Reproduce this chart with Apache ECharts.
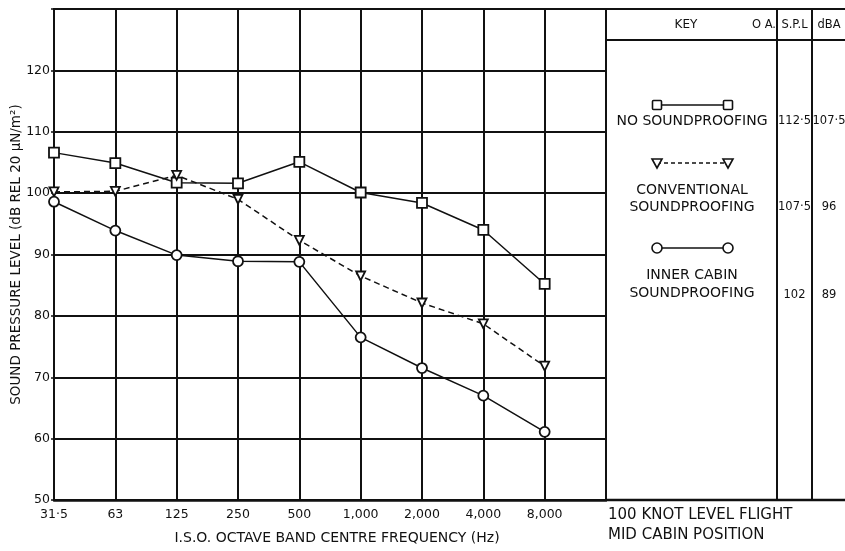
<!DOCTYPE html>
<html>
<head>
<meta charset="utf-8">
<script src="https://cdn.jsdelivr.net/npm/echarts@6/dist/echarts.min.js"></script>
<style>
  html, body { margin: 0; padding: 0; background: #fff; }
  #chart { width: 845px; height: 551px; }
</style>
</head>
<body>
<div id="chart"></div>
<script>
// octave band centre frequencies (Hz)
const freqLabels = ['31·5', '63', '125', '250', '500', '1,000', '2,000', '4,000', '8,000'];

// sound pressure level, dB
const noSoundproofing = [106.6, 104.9, 101.7, 101.6, 105.1, 100.1, 98.4, 94.0, 85.2];
const conventional = [100.2, 100.3, 102.9, 99.0, 92.3, 86.5, 82.1, 78.7, 71.8];
const innerCabin = [98.6, 93.9, 89.9, 88.9, 88.8, 76.5, 71.5, 67.0, 61.1];

// key table
const keyNames = [['NO SOUNDPROOFING'], ['CONVENTIONAL', 'SOUNDPROOFING'], ['INNER CABIN', 'SOUNDPROOFING']];
const oaSpl = ['112·5', '107·5', '102'];
const dba = ['107·5', '96', '89'];
const footNotes = ['100 KNOT LEVEL FLIGHT', 'MID CABIN POSITION'];

const FONT = 'DejaVu Sans';
const INK = '#111';

const toPoints = (vals) => vals.map((v, i) => [i, v]);

const chart = echarts.init(document.getElementById('chart'));

// key layout (decoration only)
const keyRows = [
  { sampleY: 105, textY: [121], numY: 121, symbol: 'rect', dashed: false },
  { sampleY: 163, textY: [190, 207], numY: 207, symbol: 'tri', dashed: true },
  { sampleY: 248, textY: [275, 293], numY: 295, symbol: 'circle', dashed: false },
];

function sampleSymbol(kind, x, y) {
  const style = { fill: '#fff', stroke: INK, lineWidth: 1.6 };
  if (kind === 'rect') return { type: 'rect', shape: { x: x - 4.5, y: y - 4.5, width: 9, height: 9, r: 1 }, style };
  if (kind === 'circle') return { type: 'circle', shape: { cx: x, cy: y, r: 5 }, style };
  return { type: 'polygon', shape: { points: [[x - 5, y - 4], [x + 5, y - 4], [x, y + 5]] }, style };
}

const txt = (text, x, y, align, size) => ({
  type: 'text',
  x, y,
  style: { text, fill: INK, font: `${size || 14}px "${FONT}"`, align: align || 'center', verticalAlign: 'middle' },
});

const graphics = [
  // table frame
  { type: 'line', shape: { x1: 606, y1: 9, x2: 845, y2: 9 }, style: { stroke: INK, lineWidth: 2 } },
  { type: 'line', shape: { x1: 606, y1: 500, x2: 845, y2: 500 }, style: { stroke: INK, lineWidth: 2.5 } },
  { type: 'line', shape: { x1: 606, y1: 40, x2: 845, y2: 40 }, style: { stroke: INK, lineWidth: 2 } },
  { type: 'line', shape: { x1: 777, y1: 9, x2: 777, y2: 500 }, style: { stroke: INK, lineWidth: 2 } },
  { type: 'line', shape: { x1: 812, y1: 9, x2: 812, y2: 500 }, style: { stroke: INK, lineWidth: 2 } },
  txt('KEY', 686, 25, 'center', 12),
  txt('O A.', 764, 25, 'center', 11.5),
  txt('S.P.L', 794.5, 25, 'center', 11.5),
  txt('dBA', 829, 25, 'center', 11.5),
];

keyRows.forEach((row, i) => {
  graphics.push({
    type: 'line',
    shape: { x1: 657, y1: row.sampleY, x2: 728, y2: row.sampleY },
    style: { stroke: INK, lineWidth: 1.3, lineDash: row.dashed ? [4, 3] : null },
  });
  graphics.push(sampleSymbol(row.symbol, 657, row.sampleY));
  graphics.push(sampleSymbol(row.symbol, 728, row.sampleY));
  keyNames[i].forEach((t, j) => graphics.push(txt(t, 692, row.textY[j])));
  graphics.push(txt(oaSpl[i], 794.5, row.numY, 'center', 11.5));
  graphics.push(txt(dba[i], 829, row.numY, 'center', 11.5));
});

footNotes.forEach((t, i) => graphics.push(txt(t, 608, 515 + i * 20, 'left', 15)));

const lineSeries = (name, data, symbol, dashed, extra) => Object.assign({
  name,
  type: 'line',
  data: toPoints(data),
  symbol,
  symbolSize: 10,
  showAllSymbol: true,
  lineStyle: { color: INK, width: 1.5, type: dashed ? [6, 4] : 'solid' },
  itemStyle: { color: '#fff', borderColor: INK, borderWidth: 1.8 },
  emphasis: { disabled: true },
  z: 3,
}, extra || {});

chart.setOption({
  backgroundColor: '#fff',
  animation: false,
  textStyle: { fontFamily: FONT, color: INK },
  grid: {
    left: 54, top: 9, right: 239, bottom: 51,
    outerBoundsMode: 'none',
    containLabel: false,
    show: true, borderColor: INK, borderWidth: 2,
  },
  xAxis: {
    type: 'value',
    min: 0, max: 9, interval: 1,
    name: 'I.S.O. OCTAVE BAND CENTRE FREQUENCY (Hz)',
    nameLocation: 'middle',
    nameGap: 31,
    nameTextStyle: { fontSize: 14, color: INK, padding: [0, 0, 0, 14] },
    axisLine: { show: true, lineStyle: { color: INK, width: 2.5 } },
    axisTick: { show: false },
    axisLabel: {
      color: INK, fontSize: 12.5, margin: 8,
      formatter: (v) => freqLabels[v] || '',
    },
    splitLine: { show: true, lineStyle: { color: INK, width: 2 } },
  },
  yAxis: {
    type: 'value',
    min: 50, max: 130, interval: 10,
    name: 'SOUND PRESSURE LEVEL (dB REL 20 μN/m²)',
    nameLocation: 'middle',
    nameGap: 31,
    nameMoveOverlap: false,
    nameTextStyle: { fontSize: 13.5, color: INK },
    axisLine: { show: true, lineStyle: { color: INK, width: 2 } },
    axisTick: { show: true, length: 3, lineStyle: { color: INK, width: 1.5 } },
    axisLabel: {
      color: INK, fontSize: 12.5, margin: 4,
      formatter: (v) => (v >= 130 ? '' : String(v)),
    },
    splitLine: { show: true, lineStyle: { color: INK, width: 2 } },
  },
  series: [
    lineSeries('NO SOUNDPROOFING', noSoundproofing, 'rect', false),
    lineSeries('CONVENTIONAL SOUNDPROOFING', conventional, 'triangle', true, { symbolRotate: 180, symbolSize: 9 }),
    lineSeries('INNER CABIN SOUNDPROOFING', innerCabin, 'circle', false),
  ],
  graphic: graphics,
});
</script>
</body>
</html>
